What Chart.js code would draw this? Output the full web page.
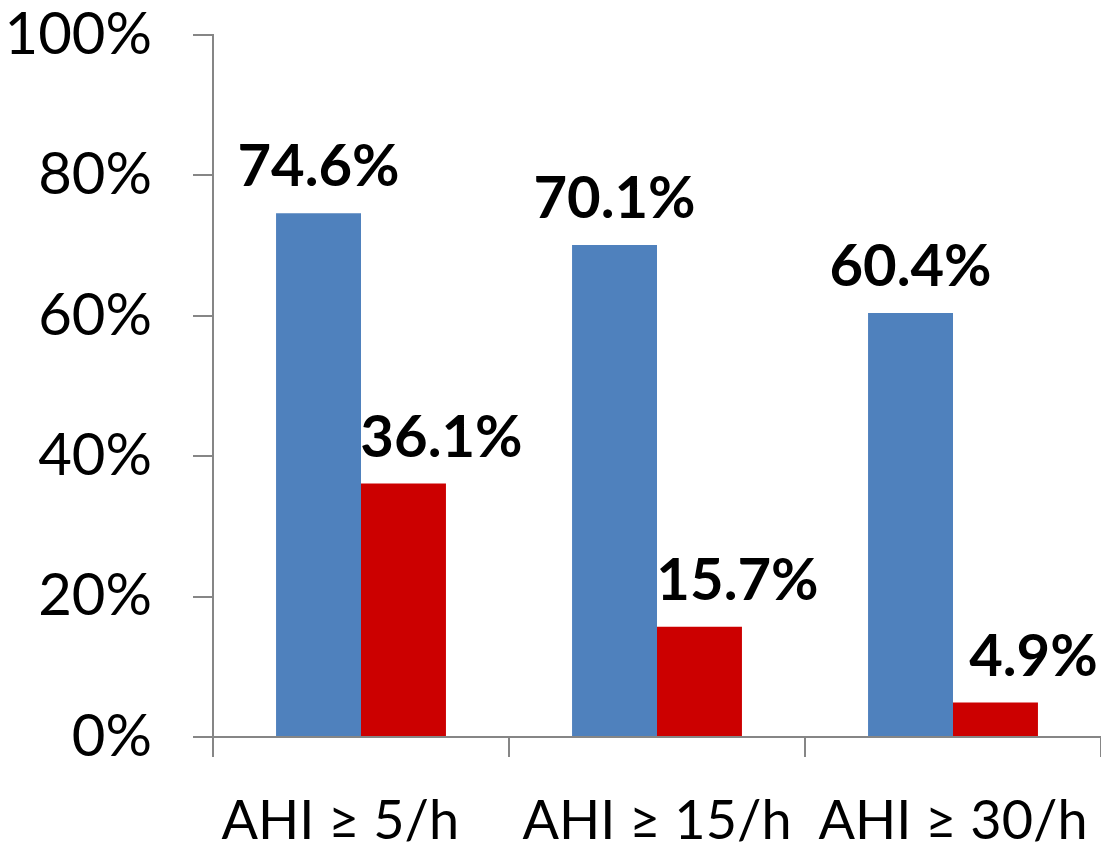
<!DOCTYPE html>
<html>
<head>
<meta charset="utf-8">
<script src="https://cdn.jsdelivr.net/npm/chart.js@4/dist/chart.umd.min.js"></script>
<style>
  html, body { margin: 0; padding: 0; background: #fff; }
  canvas { display: block; }
</style>
</head>
<body>
<canvas id="chart" width="1101" height="846"></canvas>
<script>
const categories = ['AHI \u2265 5/h   ', 'AHI \u2265 15/h', 'AHI \u2265 30/h'];
const blueValues = [74.6, 70.1, 60.4];
const redValues = [36.1, 15.7, 4.9];
const yTicks = [0, 20, 40, 60, 80, 100];

const FONT = 'Lato, "Open Sans", sans-serif';
const axisGray = '#868686';

// value labels over each bar; the red ones sit a bit to the right
const labelOffsets = [0, 38];
const valueLabels = {
  id: 'valueLabels',
  afterDatasetsDraw(chart) {
    const ctx = chart.ctx;
    ctx.save();
    ctx.font = 'bold 58px ' + FONT;
    ctx.fillStyle = '#000';
    ctx.textAlign = 'center';
    ctx.textBaseline = 'alphabetic';
    chart.data.datasets.forEach((ds, i) => {
      chart.getDatasetMeta(i).data.forEach((bar, j) => {
        ctx.fillText(ds.data[j].toFixed(1) + '%', bar.x + labelOffsets[i], bar.y - 27);
      });
    });
    ctx.restore();
  }
};

new Chart(document.getElementById('chart'), {
  type: 'bar',
  data: {
    labels: categories,
    datasets: [
      { data: blueValues, backgroundColor: '#4F81BD', barPercentage: 1, categoryPercentage: 0.574 },
      { data: redValues, backgroundColor: '#CC0000', barPercentage: 1, categoryPercentage: 0.574 }
    ]
  },
  options: {
    responsive: false,
    animation: false,
    layout: { padding: { top: 35, right: 0, left: 0, bottom: 0 } },
    plugins: { legend: { display: false }, tooltip: { enabled: false } },
    scales: {
      x: {
        offset: true,
        grid: { offset: true, drawOnChartArea: false, drawTicks: true, tickLength: 20, color: axisGray, lineWidth: 2 },
        border: { display: true, color: axisGray, width: 2 },
        ticks: { color: '#000', font: { family: FONT, size: 54 }, padding: 32, maxRotation: 0, autoSkip: false },
        afterFit(scale) {
          scale.height = 109;
          scale.paddingLeft = 0;
          scale.paddingRight = 0;
        }
      },
      y: {
        min: 0,
        max: 100,
        afterBuildTicks(scale) { scale.ticks = yTicks.map(v => ({ value: v })); },
        grid: { drawOnChartArea: false, drawTicks: true, tickLength: 20, color: axisGray, lineWidth: 2 },
        border: { display: true, color: axisGray, width: 2 },
        ticks: { color: '#000', font: { family: FONT, size: 58 }, padding: 41, callback: v => v + '%' },
        afterFit(scale) {
          scale.width = 213;
          scale.paddingTop = 0;
          scale.paddingBottom = 0;
        }
      }
    }
  },
  plugins: [valueLabels]
});
</script>
</body>
</html>
